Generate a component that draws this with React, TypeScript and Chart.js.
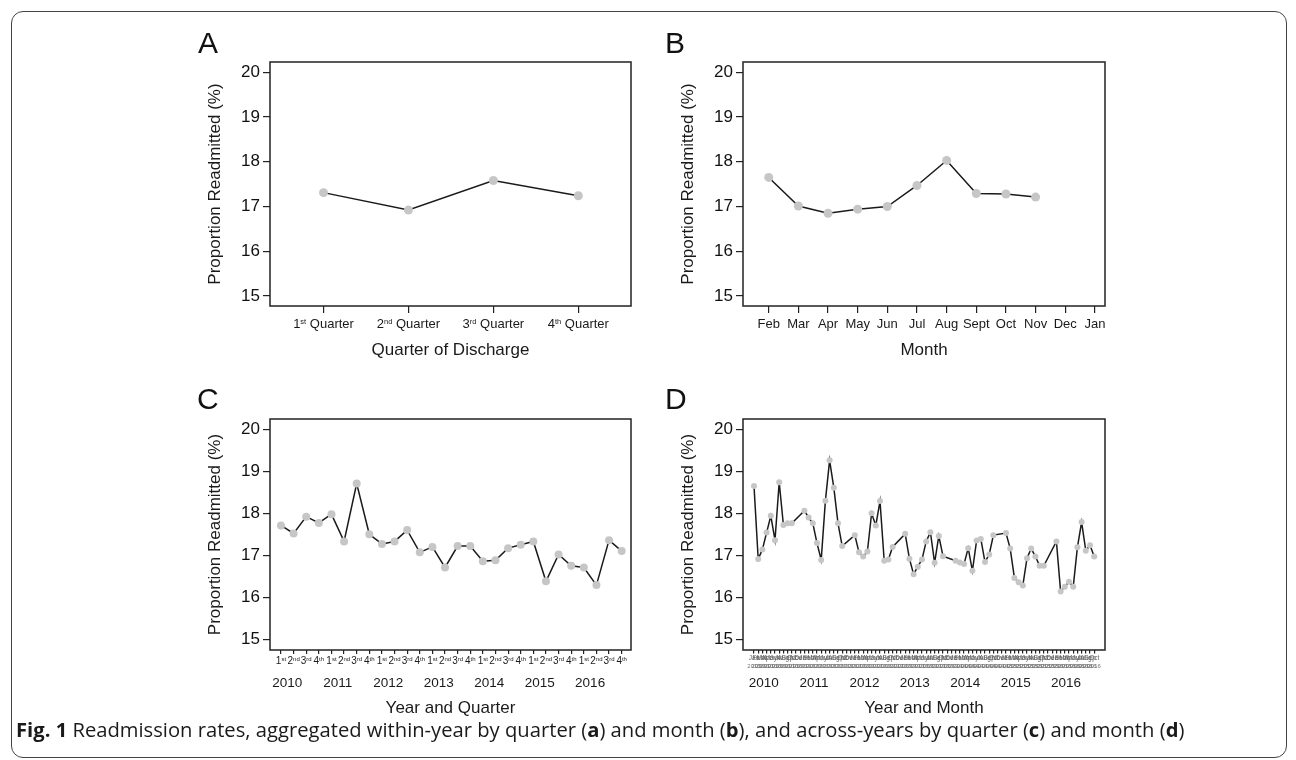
import React, { useEffect, useRef } from 'react';
import { Chart, registerables } from 'chart.js';

Chart.register(...registerables);

const FONT = "'Liberation Sans', Arial, Helvetica, sans-serif";
const INK = '#1a1a1a';
const Y_TITLE = 'Proportion Readmitted (%)';

// ---------- data ----------
const yTicks = [15, 16, 17, 18, 19, 20];

const quarterNums = ['1', '2', '3', '4'];
const quarterSups = ['st', 'nd', 'rd', 'th'];
const quarterValues = [17.31, 16.92, 17.58, 17.24];

const monthNames = ['Feb', 'Mar', 'Apr', 'May', 'Jun', 'Jul', 'Aug', 'Sept', 'Oct', 'Nov', 'Dec', 'Jan'];
const monthValues: (number | null)[] = [17.65, 17.01, 16.85, 16.94, 17.0, 17.47, 18.03, 17.29, 17.28, 17.21, null, null];

const years = ['2010', '2011', '2012', '2013', '2014', '2015', '2016'];
const yearQuarterValues = [
  17.71, 17.52, 17.92, 17.77,
  17.98, 17.33, 18.71, 17.5,
  17.27, 17.33, 17.6, 17.07,
  17.2, 16.71, 17.22, 17.22,
  16.86, 16.88, 17.17, 17.25,
  17.33, 16.38, 17.02, 16.75,
  16.71, 16.29, 17.36, 17.1,
];

const monthAbbr = ['Jan', 'Feb', 'Mar', 'Apr', 'May', 'Jun', 'Jul', 'Aug', 'Sep', 'Oct', 'Nov', 'Dec'];
const rate2010: (number | null)[] = [18.65, 16.91, 17.14, 17.54, 17.94, 17.36, 18.74, 17.72, 17.76, 17.76, null, null];
const rate2011: (number | null)[] = [18.06, 17.9, 17.76, 17.29, 16.89, 18.3, 19.26, 18.61, 17.76, 17.22, null, null];
const rate2012: (number | null)[] = [17.48, 17.07, 16.97, 17.09, 18.0, 17.71, 18.29, 16.87, 16.9, 17.2, null, null];
const rate2013: (number | null)[] = [17.51, 16.92, 16.55, 16.73, 16.9, 17.33, 17.55, 16.82, 17.46, 16.98, null, null];
const rate2014: (number | null)[] = [16.87, 16.83, 16.79, 17.17, 16.63, 17.35, 17.39, 16.84, 17.02, 17.48, null, null];
const rate2015: (number | null)[] = [17.53, 17.16, 16.46, 16.36, 16.28, 16.93, 17.16, 16.97, 16.75, 16.75, null, null];
const rate2016: (number | null)[] = [17.33, 16.14, 16.25, 16.37, 16.25, 17.19, 17.79, 17.11, 17.24, 16.97];

const yearMonthValues: (number | null)[] = [
  ...rate2010, ...rate2011, ...rate2012, ...rate2013, ...rate2014, ...rate2015, ...rate2016,
];

// ---------- types ----------
type Area = { left: number; top: number; right: number; bottom: number };
type Lab = { pos: number; main: string; sup?: string; rest?: string };
type Row = { labels: Lab[]; offset: number; size: number; supSize?: number; rise?: number; color?: string };
type PanelSpec = {
  key: string;
  area: Area;
  xMin: number; xMax: number; yMin: number; yMax: number;
  values: (number | null)[];
  xTicks: number[];
  tickLen: number;
  radius: number;
  rows: Row[];
  xTitle: string;
  xTitleOffset: number;
};

const PAD_T = 30, PAD_R = 12, Y_W = 120, X_H = 80;

function drawLabel(ctx: CanvasRenderingContext2D, x: number, y: number, lab: Lab, row: Row) {
  const mainFont = `${row.size}px ${FONT}`;
  const supFont = `${row.supSize || row.size}px ${FONT}`;
  ctx.font = mainFont;
  const w1 = ctx.measureText(lab.main).width;
  const w3 = lab.rest ? ctx.measureText(lab.rest).width : 0;
  ctx.font = supFont;
  const w2 = lab.sup ? ctx.measureText(lab.sup).width : 0;
  const start = x - (w1 + w2 + w3) / 2;
  ctx.textAlign = 'left';
  ctx.textBaseline = 'alphabetic';
  ctx.fillStyle = row.color || INK;
  ctx.font = mainFont;
  ctx.fillText(lab.main, start, y);
  if (lab.sup) {
    ctx.font = supFont;
    ctx.fillText(lab.sup, start + w1, y - (row.rise || 0));
  }
  if (lab.rest) {
    ctx.font = mainFont;
    ctx.fillText(lab.rest, start + w1 + w2, y);
  }
}

function panelPlugin(p: PanelSpec) {
  return {
    id: 'panel' + p.key,
    afterDraw(chart: any) {
      const ctx: CanvasRenderingContext2D = chart.ctx;
      const ca = chart.chartArea;
      const xs = chart.scales.x;
      ctx.save();
      ctx.strokeStyle = '#222';
      ctx.lineWidth = 1.5;
      ctx.strokeRect(ca.left, ca.top, ca.right - ca.left, ca.bottom - ca.top);
      for (const row of p.rows) {
        for (const lab of row.labels) {
          drawLabel(ctx, xs.getPixelForValue(lab.pos), ca.bottom + row.offset, lab, row);
        }
      }
      ctx.fillStyle = INK;
      ctx.font = `17px ${FONT}`;
      ctx.textAlign = 'center';
      ctx.textBaseline = 'alphabetic';
      ctx.fillText(p.xTitle, (ca.left + ca.right) / 2, ca.bottom + p.xTitleOffset);
      ctx.translate(ca.left - 54.5, (ca.top + ca.bottom) / 2);
      ctx.rotate(-Math.PI / 2);
      ctx.textBaseline = 'middle';
      ctx.fillText(Y_TITLE, 0, 0);
      ctx.restore();
    },
  };
}

// ---------- panels ----------
const panelA: PanelSpec = {
  key: 'A',
  area: { left: 270, top: 62, right: 631, bottom: 306 },
  xMin: -0.63, xMax: 3.62, yMin: 14.776, yMax: 20.23,
  values: quarterValues,
  xTicks: quarterNums.map((_, i) => i),
  tickLen: 7,
  radius: 4.5,
  rows: [{
    labels: quarterNums.map((n, i) => ({ pos: i, main: n, sup: quarterSups[i], rest: ' Quarter' })),
    offset: 22, size: 13, supSize: 7.5, rise: 4.5,
  }],
  xTitle: 'Quarter of Discharge',
  xTitleOffset: 49,
};

const panelB: PanelSpec = {
  key: 'B',
  area: { left: 743, top: 62, right: 1105, bottom: 306 },
  xMin: -0.867, xMax: 11.34, yMin: 14.776, yMax: 20.23,
  values: monthValues,
  xTicks: monthNames.map((_, i) => i),
  tickLen: 7,
  radius: 4.5,
  rows: [{ labels: monthNames.map((m, i) => ({ pos: i, main: m })), offset: 22, size: 13 }],
  xTitle: 'Month',
  xTitleOffset: 49,
};

const panelC: PanelSpec = {
  key: 'C',
  area: { left: 270, top: 419, right: 631, bottom: 650 },
  xMin: -0.87, xMax: 27.74, yMin: 14.745, yMax: 20.245,
  values: yearQuarterValues,
  xTicks: yearQuarterValues.map((_, i) => i),
  tickLen: 4,
  radius: 4,
  rows: [
    {
      labels: yearQuarterValues.map((_, i) => ({ pos: i, main: quarterNums[i % 4], sup: quarterSups[i % 4] })),
      offset: 14, size: 10, supSize: 6, rise: 3.5,
    },
    { labels: years.map((y, k) => ({ pos: 0.5 + 4 * k, main: y })), offset: 37, size: 13.5 },
  ],
  xTitle: 'Year and Quarter',
  xTitleOffset: 63,
};

const panelD: PanelSpec = {
  key: 'D',
  area: { left: 743, top: 419, right: 1105, bottom: 650 },
  xMin: -2.62, xMax: 83.57, yMin: 14.745, yMax: 20.245,
  values: yearMonthValues,
  xTicks: yearMonthValues.map((_, i) => i),
  tickLen: 3.5,
  radius: 3,
  rows: [
    { labels: yearMonthValues.map((_, i) => ({ pos: i, main: monthAbbr[i % 12] })), offset: 10, size: 6.5, color: '#666' },
    { labels: yearMonthValues.map((_, i) => ({ pos: i, main: years[Math.floor(i / 12)] })), offset: 17.5, size: 6, color: '#777' },
    { labels: years.map((y, k) => ({ pos: 2.3 + 12 * k, main: y })), offset: 37, size: 13.5 },
  ],
  xTitle: 'Year and Month',
  xTitleOffset: 63,
};

const panels = [panelA, panelB, panelC, panelD];

function Panel({ p }: { p: PanelSpec }) {
  const ref = useRef<HTMLCanvasElement | null>(null);
  const w = p.area.right - p.area.left + Y_W + PAD_R;
  const h = p.area.bottom - p.area.top + PAD_T + X_H;
  useEffect(() => {
    if (!ref.current) return;
    const pts = p.values
      .map((v, i) => ({ x: i, y: v }))
      .filter((d) => d.y !== null) as { x: number; y: number }[];
    const chart = new Chart(ref.current, {
      type: 'line',
      data: {
        datasets: [{
          data: pts,
          borderColor: INK,
          borderWidth: 1.5,
          pointRadius: p.radius,
          pointHoverRadius: p.radius,
          pointBackgroundColor: '#c6c6c6',
          pointBorderWidth: 0,
          tension: 0,
          fill: false,
        }],
      },
      options: {
        responsive: false,
        maintainAspectRatio: false,
        animation: false,
        events: [],
        layout: { padding: { left: 0, top: PAD_T, right: PAD_R, bottom: 0 } },
        plugins: { legend: { display: false }, tooltip: { enabled: false } },
        scales: {
          x: {
            type: 'linear',
            min: p.xMin,
            max: p.xMax,
            afterBuildTicks: (s: any) => { s.ticks = p.xTicks.map((v) => ({ value: v })); },
            afterFit: (s: any) => { s.height = X_H; },
            ticks: { display: false },
            grid: { drawOnChartArea: false, drawTicks: true, tickLength: p.tickLen, color: '#222', lineWidth: 1.2 },
            border: { display: false },
          },
          y: {
            type: 'linear',
            min: p.yMin,
            max: p.yMax,
            afterBuildTicks: (s: any) => { s.ticks = yTicks.map((v) => ({ value: v })); },
            afterFit: (s: any) => { s.width = Y_W; },
            ticks: { color: '#111', padding: 3, font: { family: FONT, size: 17 } },
            grid: { drawOnChartArea: false, drawTicks: true, tickLength: 7, color: '#222', lineWidth: 1.2 },
            border: { display: false },
          },
        },
      } as any,
      plugins: [panelPlugin(p)],
    });
    return () => chart.destroy();
  }, [p]);
  return (
    <canvas
      ref={ref}
      width={w}
      height={h}
      style={{
        position: 'absolute',
        left: p.area.left - Y_W,
        top: p.area.top - PAD_T,
        width: w,
        height: h,
      }}
    />
  );
}

const letterStyle: React.CSSProperties = {
  position: 'absolute',
  fontFamily: FONT,
  fontSize: 30,
  lineHeight: '30px',
  color: '#111',
};

export default function App() {
  return (
    <div style={{ position: 'absolute', left: 0, top: 0, width: 1296, height: 760, background: '#fff', overflow: 'hidden' }}>
      <div style={{
        position: 'absolute', left: 11, top: 11, width: 1276, height: 747,
        border: '1px solid #444', borderRadius: 12, boxSizing: 'border-box',
      }} />
      {panels.map((p) => <Panel key={p.key} p={p} />)}
      <div style={{ ...letterStyle, left: 198, top: 28 }}>A</div>
      <div style={{ ...letterStyle, left: 665, top: 28 }}>B</div>
      <div style={{ ...letterStyle, left: 197, top: 384 }}>C</div>
      <div style={{ ...letterStyle, left: 665, top: 384 }}>D</div>
      <div style={{
        position: 'absolute', left: 16, top: 719, whiteSpace: 'nowrap',
        fontFamily: "'Open Sans', 'Noto Sans', sans-serif", fontSize: 20.2, lineHeight: '20px', color: '#1a1a1a',
      }}>
        <b>Fig. 1</b> Readmission rates, aggregated within-year by quarter (<b>a</b>) and month (<b>b</b>), and across-years by quarter (<b>c</b>) and month (<b>d</b>)
      </div>
    </div>
  );
}
